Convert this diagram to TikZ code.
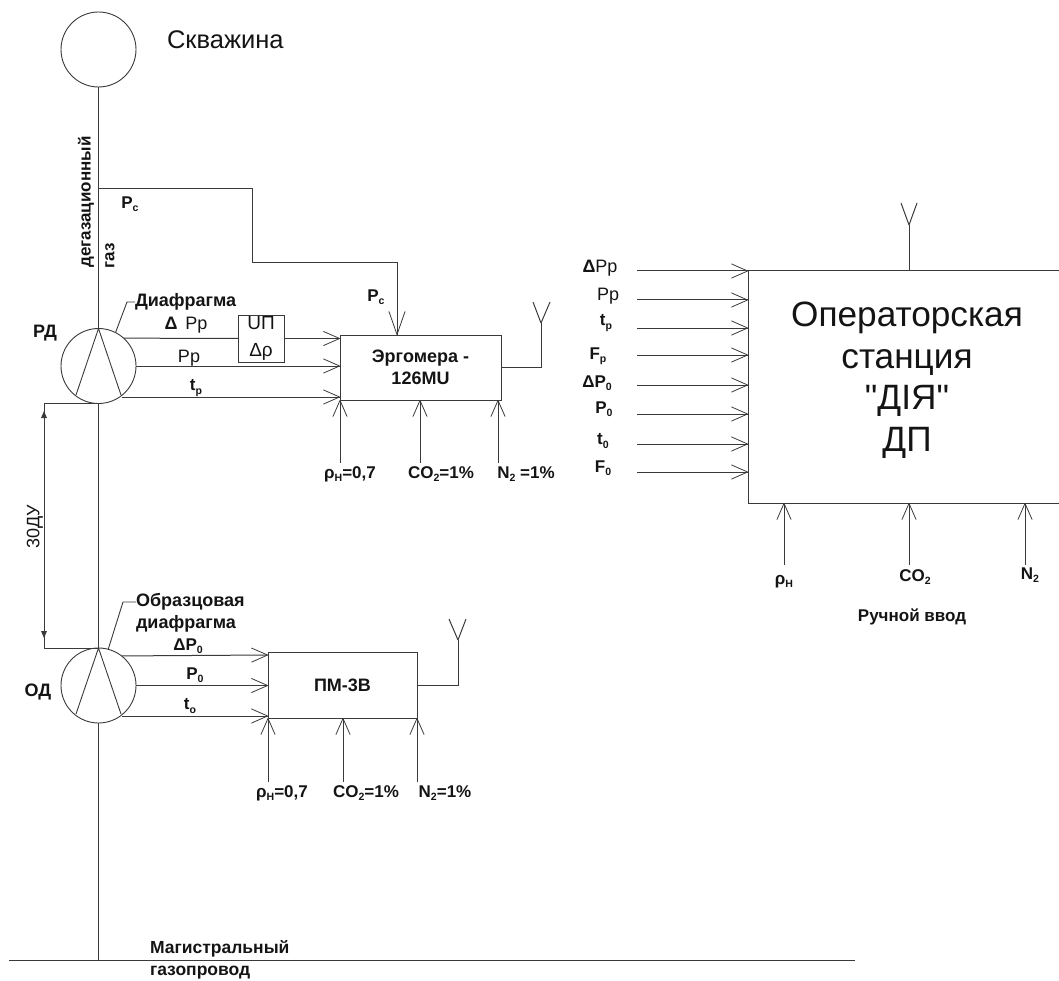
\documentclass[tikz,border=0pt]{standalone}
\usepackage{fontspec}
\setmainfont{Liberation Sans}
\newfontfamily\plainfont{Liberation Sans}
\newcommand{\sbs}[1]{\raisebox{-0.35ex}{\scalebox{.62}{#1}}}
\definecolor{ln}{HTML}{3A3A3A}
\definecolor{tx}{HTML}{141414}
\pgfarrowsdeclare{vbarb}{vbarb}{\pgfarrowsleftextend{-16pt}\pgfarrowsrightextend{0.4pt}}{
  \pgfsetdash{}{0pt}\pgfsetroundcap\pgfsetroundjoin\pgfsetlinewidth{.8pt}
  \pgfpathmoveto{\pgfpoint{-16pt}{7pt}}\pgfpathlineto{\pgfpointorigin}\pgfpathlineto{\pgfpoint{-16pt}{-7pt}}\pgfusepathqstroke}
\pgfarrowsdeclare{vbarbbig}{vbarbbig}{\pgfarrowsleftextend{-23pt}\pgfarrowsrightextend{0.4pt}}{
  \pgfsetdash{}{0pt}\pgfsetroundcap\pgfsetroundjoin\pgfsetlinewidth{.8pt}
  \pgfpathmoveto{\pgfpoint{-23pt}{8pt}}\pgfpathlineto{\pgfpointorigin}\pgfpathlineto{\pgfpoint{-23pt}{-8pt}}\pgfusepathqstroke}
\tikzset{
  x=1pt,y=-1pt,
  line/.style={draw=ln,line width=1pt},
  arr/.style={line,-vbarb},
  bigarr/.style={line,-vbarbbig},
  vessel/.style={circle,draw=ln,line width=.9pt,minimum size=75pt,inner sep=0pt,outer sep=0pt},
  block/.style={rectangle,draw=ln,line width=1pt,inner sep=0pt,outer sep=0pt,text=tx,font=\bfseries\fontsize{18}{22}\selectfont,align=center},
  lab/.style={inner sep=0pt,outer sep=0pt,text=tx,font=\bfseries\fontsize{17}{20}\selectfont},
  biglab/.style={inner sep=0pt,outer sep=0pt,text=tx,align=center,font=\fontsize{35.2}{41.5}\selectfont},
}
\begin{document}
\begin{tikzpicture}
\useasboundingbox (0,0) rectangle (1059,981);
% vessels
\node[vessel] (well) at (98.5,49.5) {};
\node[vessel] (rd) at (98.5,366) {};
\node[vessel] (od) at (98.5,685.5) {};
\node[lab,anchor=west,font=\fontsize{25.5}{28}\selectfont] (tw) at (167,40) {Скважина};
\coordinate (mL) at (9,960.5); \coordinate (mR) at (855,960.5); \coordinate (mJ) at (98.5,960.5);
\draw[line] (mL) -- (mR);
\draw[line] (well.south) -- (rd.north);
\draw[line] (rd.south) -- (od.north);
\draw[line] (od.south) -- (mJ);
% diaphragm wedges
\coordinate (ra) at (76,395); \coordinate (rb) at (121,395);
\draw[line,line width=.9pt] (ra) -- (rd.north) -- (rb);
\coordinate (oa) at (76,714); \coordinate (ob) at (121,714);
\draw[line,line width=.9pt] (oa) -- (od.north) -- (ob);
% labels at pipe
\node[lab,rotate=90] (tdeg) at (86,202) {дегазационный};
\node[lab,rotate=90] (tgaz) at (110,256) {газ};
\node[lab] (tpc1) at (130,204) {P\sbs{c}};
\node[lab,font=\bfseries\fontsize{18}{20}\selectfont] (trd) at (45,333) {РД};
\node[lab,font=\bfseries\fontsize{18}{20}\selectfont] (tod) at (38,692) {ОД};
\node[lab,anchor=west,font=\bfseries\fontsize{18}{20}\selectfont] (tdia) at (135,302) {Диафрагма};
\coordinate (rl) at (127,302);
\draw[line,line width=.9pt] (rd.63) -- (rl) -- (tdia.west);
\node[lab,anchor=west,font=\bfseries\fontsize{18}{20}\selectfont] (tobr) at (136,602) {Образцовая};
\node[lab,anchor=west,font=\bfseries\fontsize{18}{20}\selectfont] (tdf) at (136,624) {диафрагма};
\coordinate (ol) at (123,602);
\draw[line,line width=.9pt] (od.75) -- (ol) -- (tobr.west);
% Ergomera
\node[block,minimum width=161pt,minimum height=65pt] (erg) at (420.5,367.5) {Эргомера -\\126MU};
\node[block,minimum width=46pt,minimum height=47pt,font=\fontsize{19}{27}\selectfont] (up) at (261,338.5) {UП\\Δρ};
\coordinate (e1) at (340,338.5); \coordinate (e2) at (340,366); \coordinate (e3) at (340,397);
\draw[line] (rd.48) -- (up.west);
\draw[arr] (up.east) -- (e1);
\draw[arr] (rd.east) -- (e2);
\coordinate (rt) at (122,397);
\draw[arr] (rt) -- (e3);
\node[lab,font=\fontsize{18}{20}\selectfont] (tdpp) at (186,325) {\textbf{Δ}\hspace{8pt}Pp};
\node[lab,font=\fontsize{18}{20}\selectfont] (tpp) at (189,358) {Pp};
\node[lab] (ttp) at (196,388) {t\sbs{p}};
% Pc feed
\coordinate (p0) at (98.5,189); \coordinate (p1) at (252,189); \coordinate (p2) at (252,262.5); \coordinate (p3) at (397,262.5); \coordinate (p4) at (397,335);
\draw[line] (p0) -- (p1) -- (p2) -- (p3);
\draw[bigarr] (p3) -- (p4);
\node[lab] (tpc2) at (376,297) {P\sbs{c}};
% Ergomera bottom inputs
\coordinate (eb1) at (340,400); \coordinate (eb2) at (420,400); \coordinate (eb3) at (498,400);
\node[lab] (te1) at (350,474) {ρ\sbs{Н}=0,7};
\node[lab] (te2) at (441,474) {CO\sbs{2}=1\%};
\node[lab] (te3) at (526,474) {N\sbs{2} =1\%};
\coordinate (es1) at (340,463); \coordinate (es2) at (420,463); \coordinate (es3) at (498,463);
\draw[arr] (es1) -- (eb1);
\draw[arr] (es2) -- (eb2);
\draw[arr] (es3) -- (eb3);
\coordinate (ea) at (541,323);
\draw[line] (erg.east) -| (ea);
\draw[line] (ea) -- ++(-8,-21) (ea) -- ++(9,-21);
% 30DU dimension
\coordinate (d1) at (44,403); \coordinate (d2) at (44,648);
\coordinate (dj1) at (98.5,403); \coordinate (dj2) at (98.5,648);
\draw[line] (dj1) -- (d1) -- (d2) -- (dj2);
\fill[ln] (44,411) -- (47,418) -- (41,418) -- cycle;
\fill[ln] (44,638) -- (47,631) -- (41,631) -- cycle;
\node[lab,rotate=90,font=\fontsize{18}{20}\selectfont] (tdu) at (35,527) {30ДУ};
% PM-3V
\node[block,minimum width=149pt,minimum height=66pt] (pm) at (342.5,685) {ПМ-3В};
\coordinate (o1) at (268,655); \coordinate (o2) at (268,685.5); \coordinate (o3) at (268,716);
\draw[arr] (od.52) -- (o1);
\draw[arr] (od.east) -- (o2);
\coordinate (ot) at (122,716);
\draw[arr] (ot) -- (o3);
\node[lab] (tdp0) at (188,646) {ΔP\sbs{0}};
\node[lab] (tp0) at (195,675) {P\sbs{0}};
\node[lab] (tt0) at (190,706) {t\sbs{o}};
\coordinate (ob1) at (268,718); \coordinate (ob2) at (343,718); \coordinate (ob3) at (417,718);
\coordinate (os1) at (268,782); \coordinate (os2) at (343,782); \coordinate (os3) at (417,782);
\draw[arr] (os1) -- (ob1);
\draw[arr] (os2) -- (ob2);
\draw[arr] (os3) -- (ob3);
\node[lab] (to1) at (282,793) {ρ\sbs{Н}=0,7};
\node[lab] (to2) at (366,793) {CO\sbs{2}=1\%};
\node[lab] (to3) at (445,793) {N\sbs{2}=1\%};
\coordinate (oa2) at (458,640);
\draw[line] (pm.east) -| (oa2);
\draw[line] (oa2) -- ++(-9,-21) (oa2) -- ++(8,-21);
% Pipeline label
\node[lab,anchor=west,font=\bfseries\fontsize{17.5}{20}\selectfont] (tm1) at (150,949) {Магистральный};
\node[lab,anchor=west,font=\bfseries\fontsize{17.5}{20}\selectfont] (tm2) at (150,973) {газопровод};
% Operator station (box runs off the right edge)
\coordinate (bTL) at (748,271); \coordinate (bBL) at (748,503);
\coordinate (bTR) at (1059,271); \coordinate (bBR) at (1059,503);
\draw[line] (bTR) -- (bTL) -- (bBL) -- (bBR);
\node[biglab] (st) at (907,380) {Операторская\\станция\\{\plainfont"}ДІЯ{\plainfont"}\\ДП};
\foreach \n/\y in {1/271,2/300,3/328,4/355,5/385,6/414,7/444,8/472}{
  \coordinate (is\n) at (637,\y);
  \coordinate (ie\n) at (748,\y);
  \draw[arr] (is\n) -- (ie\n);
}
\node[lab,font=\fontsize{18}{20}\selectfont] (l1) at (600,268) {\textbf{Δ}Pp};
\node[lab,font=\fontsize{18}{20}\selectfont] (l2) at (608,296) {Pp};
\node[lab] (l3) at (606,323) {t\sbs{p}};
\node[lab] (l4) at (598,356) {F\sbs{p}};
\node[lab] (l5) at (597,383) {ΔP\sbs{0}};
\node[lab] (l6) at (604,409) {P\sbs{0}};
\node[lab] (l7) at (603,441) {t\sbs{0}};
\node[lab] (l8) at (603,468) {F\sbs{0}};
\coordinate (sa) at (909,225);
\coordinate (st0) at (909,271);
\draw[line] (st0) -- (sa);
\draw[line] (sa) -- ++(-8,-22) (sa) -- ++(8,-22);
\coordinate (sb1) at (784,503); \coordinate (sb2) at (909,503); \coordinate (sb3) at (1025,503);
\coordinate (ss1) at (784,565); \coordinate (ss2) at (909,565); \coordinate (ss3) at (1025,565);
\draw[arr] (ss1) -- (sb1);
\draw[arr] (ss2) -- (sb2);
\draw[arr] (ss3) -- (sb3);
\node[lab] (r1) at (784,582) {ρ\sbs{Н}};
\node[lab] (r2) at (915,577) {CO\sbs{2}};
\node[lab] (r3) at (1030,575) {N\sbs{2}};
\node[lab] (r4) at (912,617) {Ручной ввод};
\end{tikzpicture}
\end{document}
